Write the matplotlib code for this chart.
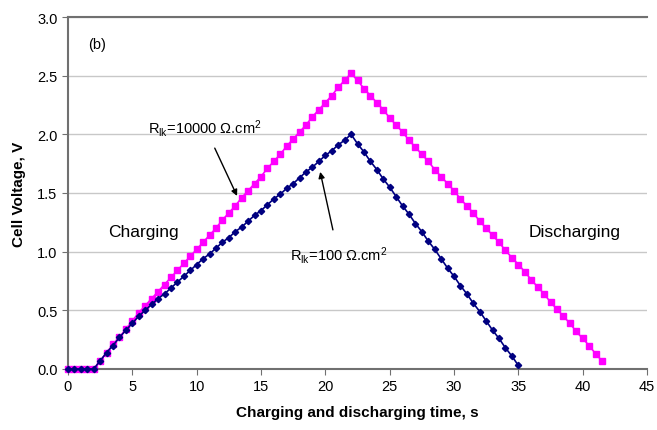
import matplotlib
matplotlib.use("Agg")
import matplotlib.pyplot as plt

plt.rcParams['font.family'] = ['Liberation Sans', 'DejaVu Sans']
plt.rcParams['mathtext.fontset'] = 'custom'
plt.rcParams['mathtext.rm'] = 'Liberation Sans'
plt.rcParams['mathtext.it'] = 'Liberation Sans:italic'

# R_lk = 10000 ohm.cm2 (magenta)
t_10000 = [0, 0.5, 1, 1.5, 2, 2.5, 3, 3.5, 4, 4.5, 5, 5.5, 6, 6.5, 7, 7.5, 8, 8.5, 9, 9.5,
           10, 10.5, 11, 11.5, 12, 12.5, 13, 13.5, 14, 14.5, 15, 15.5, 16, 16.5, 17, 17.5,
           18, 18.5, 19, 19.5, 20, 20.5, 21, 21.5, 22, 22.5, 23, 23.5, 24, 24.5, 25, 25.5,
           26, 26.5, 27, 27.5, 28, 28.5, 29, 29.5, 30, 30.5, 31, 31.5, 32, 32.5, 33, 33.5,
           34, 34.5, 35, 35.5, 36, 36.5, 37, 37.5, 38, 38.5, 39, 39.5, 40, 40.5, 41, 41.5]
v_10000 = [0, 0, 0, 0, 0, 0.07, 0.14, 0.21, 0.27, 0.34, 0.41, 0.48, 0.54, 0.60, 0.66, 0.72,
           0.78, 0.84, 0.90, 0.96, 1.02, 1.08, 1.14, 1.20, 1.27, 1.33, 1.39, 1.46, 1.52, 1.58,
           1.64, 1.71, 1.77, 1.83, 1.90, 1.96, 2.02, 2.08, 2.15, 2.21, 2.27, 2.33, 2.40, 2.46,
           2.52, 2.46, 2.39, 2.33, 2.27, 2.21, 2.14, 2.08, 2.02, 1.95, 1.89, 1.83, 1.77, 1.70,
           1.64, 1.58, 1.52, 1.45, 1.39, 1.33, 1.26, 1.20, 1.14, 1.08, 1.01, 0.95, 0.89, 0.83,
           0.76, 0.70, 0.64, 0.57, 0.51, 0.45, 0.39, 0.32, 0.26, 0.20, 0.13, 0.07]

# R_lk = 100 ohm.cm2 (navy)
t_100 = [0, 0.5, 1, 1.5, 2, 2.5, 3, 3.5, 4, 4.5, 5, 5.5, 6, 6.5, 7, 7.5, 8, 8.5, 9, 9.5,
         10, 10.5, 11, 11.5, 12, 12.5, 13, 13.5, 14, 14.5, 15, 15.5, 16, 16.5, 17, 17.5,
         18, 18.5, 19, 19.5, 20, 20.5, 21, 21.5, 22, 22.5, 23, 23.5, 24, 24.5, 25, 25.5,
         26, 26.5, 27, 27.5, 28, 28.5, 29, 29.5, 30, 30.5, 31, 31.5, 32, 32.5, 33, 33.5,
         34, 34.5, 35]
v_100 = [0, 0, 0, 0, 0, 0.07, 0.14, 0.20, 0.27, 0.33, 0.39, 0.45, 0.50, 0.55, 0.60, 0.64,
         0.69, 0.74, 0.79, 0.84, 0.89, 0.94, 0.98, 1.03, 1.08, 1.12, 1.17, 1.21, 1.26, 1.31,
         1.35, 1.40, 1.45, 1.49, 1.54, 1.58, 1.63, 1.68, 1.72, 1.77, 1.82, 1.86, 1.91, 1.95,
         2.00, 1.92, 1.85, 1.77, 1.70, 1.62, 1.55, 1.47, 1.39, 1.32, 1.24, 1.17, 1.09, 1.02,
         0.94, 0.86, 0.79, 0.71, 0.64, 0.56, 0.49, 0.41, 0.33, 0.26, 0.18, 0.11, 0.03]

x_ticks = [0, 5, 10, 15, 20, 25, 30, 35, 40, 45]
y_ticks = [0.0, 0.5, 1.0, 1.5, 2.0, 2.5, 3.0]

fig = plt.figure(figsize=(6.57, 4.31), dpi=100)
ax = fig.add_axes([68 / 657, 1 - 370 / 431, (647 - 68) / 657, (370 - 18) / 431])

ax.plot(t_10000, v_10000, color='#FF00FF', marker='s', markersize=4.0, linewidth=1.2,
        clip_on=False, zorder=3)
ax.plot(t_100, v_100, color='#000080', marker='D', markersize=3.2, linewidth=1.2,
        clip_on=False, zorder=4)

ax.set_xlim(0, 45)
ax.set_ylim(0, 3.0)
ax.set_xticks(x_ticks)
ax.set_yticks(y_ticks)
ax.set_yticklabels([f"{v:.1f}" for v in y_ticks])
ax.tick_params(axis='both', labelsize=10.5, color='#707070', direction='out', length=4)
ax.yaxis.grid(True, color='#C8C8C8', linewidth=1.0)
ax.set_axisbelow(True)
for s in ['left', 'bottom', 'top']:
    ax.spines[s].set_color('#707070')
    ax.spines[s].set_linewidth(1.5)
ax.spines['right'].set_visible(False)

ax.set_xlabel('Charging and discharging time, s', fontsize=11, fontweight='bold', labelpad=8)
ax.set_ylabel('Cell Voltage, V', fontsize=11, fontweight='bold', labelpad=8)

ax.text(2.25, 2.77, '(b)', fontsize=10.5, ha='center', va='center')
ax.text(5.83, 1.17, 'Charging', fontsize=12.5, ha='center', va='center')
ax.text(39.35, 1.17, 'Discharging', fontsize=12.5, ha='center', va='center')

ax.annotate(r'R$_{\rm lk}$=10000 $\Omega$.cm$^2$', xy=(13.14, 1.475), xytext=(10.65, 2.06),
            fontsize=10.5, ha='center', va='center',
            arrowprops=dict(arrowstyle='-|>', color='black', lw=1.0, mutation_scale=9,
                            shrinkA=6, shrinkB=0))
ax.annotate(r'R$_{\rm lk}$=100 $\Omega$.cm$^2$', xy=(19.6, 1.68), xytext=(21.0, 0.98),
            fontsize=10.5, ha='center', va='center',
            arrowprops=dict(arrowstyle='-|>', color='black', lw=1.0, mutation_scale=9,
                            shrinkA=8, shrinkB=0))

fig.savefig('out.png', dpi=100)
